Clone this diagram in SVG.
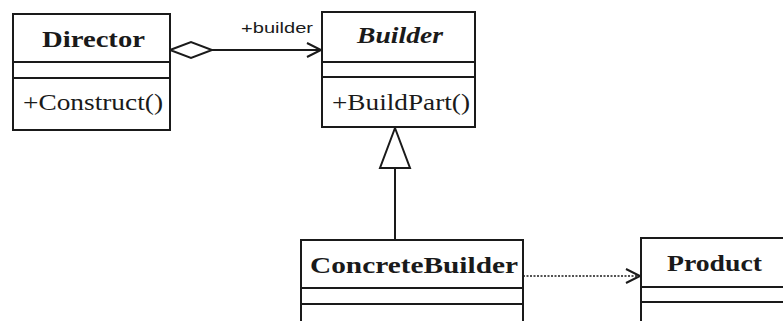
<svg xmlns="http://www.w3.org/2000/svg" width="783" height="321" viewBox="0 0 783 321">
<style>
.box{fill:#fff;stroke:#1a1a1a;stroke-width:2}
.ln{stroke:#1a1a1a;stroke-width:2;fill:none}
.title{font-family:"Liberation Serif","Times New Roman",serif;font-weight:bold;font-size:23px;fill:#1a1a1a}
.op{font-family:"Liberation Serif","Times New Roman",serif;font-size:23px;fill:#1a1a1a}
.lbl{font-family:"Liberation Sans",Arial,sans-serif;font-size:15px;fill:#1a1a1a}
</style>
<rect width="783" height="321" fill="#fff"/>
<g id="connectors">
<polygon class="ln" points="170,50 191,42 212,50 191,58" style="fill:#fff"/>
<line class="ln" x1="212" y1="50" x2="321" y2="50"/>
<polyline class="ln" points="307,43 321,50 307,57"/>
<text class="lbl" x="241" y="33" textLength="72" lengthAdjust="spacingAndGlyphs">+builder</text>
<line class="ln" x1="395" y1="168" x2="395" y2="240"/>
<polygon class="ln" points="395,128 380,168 410,168" style="fill:#fff"/>
<line class="ln" x1="523" y1="276" x2="640" y2="276" stroke-dasharray="2,1.5" style="stroke-width:1.6"/>
<polyline class="ln" points="626,269 640,276 626,283"/>
</g>
<g id="director">
<rect class="box" x="13" y="14" width="157" height="116"/>
<line class="ln" x1="13" y1="62" x2="170" y2="62"/>
<line class="ln" x1="13" y1="78" x2="170" y2="78"/>
<text class="title" x="42" y="47" textLength="103" lengthAdjust="spacingAndGlyphs">Director</text>
<text class="op" x="23" y="110" textLength="140" lengthAdjust="spacingAndGlyphs">+Construct()</text>
</g>
<g id="builder">
<rect class="box" x="322" y="12" width="153" height="115"/>
<line class="ln" x1="322" y1="62" x2="475" y2="62"/>
<line class="ln" x1="322" y1="77" x2="475" y2="77"/>
<text class="title" x="357" y="43" font-style="italic" textLength="86" lengthAdjust="spacingAndGlyphs">Builder</text>
<text class="op" x="332" y="110" textLength="138" lengthAdjust="spacingAndGlyphs">+BuildPart()</text>
</g>
<g id="concretebuilder">
<rect class="box" x="301" y="240" width="222" height="90"/>
<line class="ln" x1="301" y1="288" x2="523" y2="288"/>
<line class="ln" x1="301" y1="304" x2="523" y2="304"/>
<text class="title" x="310" y="273" font-size="25" textLength="208" lengthAdjust="spacingAndGlyphs">ConcreteBuilder</text>
</g>
<g id="product">
<rect class="box" x="641" y="238" width="160" height="90"/>
<line class="ln" x1="641" y1="287" x2="801" y2="287"/>
<line class="ln" x1="641" y1="302" x2="801" y2="302"/>
<text class="title" x="667" y="271" font-size="25" textLength="95" lengthAdjust="spacingAndGlyphs">Product</text>
</g>
</svg>
